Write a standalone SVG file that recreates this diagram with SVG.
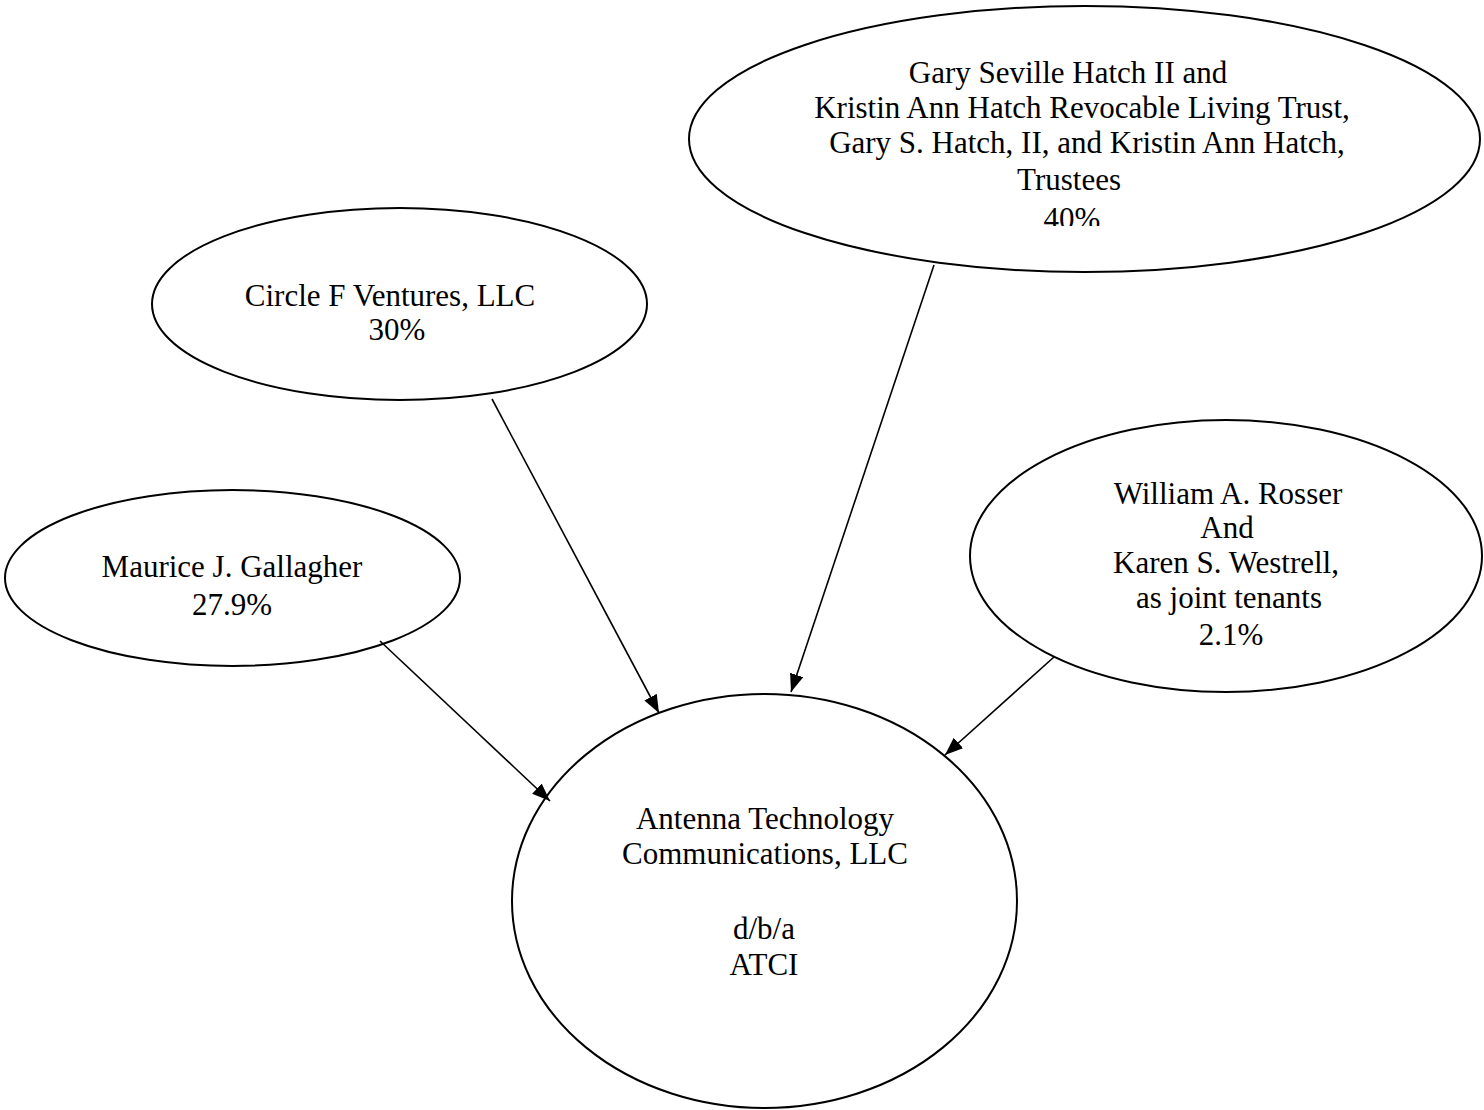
<svg xmlns="http://www.w3.org/2000/svg" width="1484" height="1110" viewBox="0 0 1484 1110">
<style>
.node{fill:#fff;stroke:#000;stroke-width:2}
.t{font-family:"Liberation Serif","Times New Roman",serif;font-size:31px;fill:#000;text-anchor:middle}
.edge{stroke:#000;stroke-width:1.6;fill:none;marker-end:url(#arr)}
</style>
<defs>
<marker id="arr" markerUnits="userSpaceOnUse" markerWidth="20" markerHeight="16" refX="18" refY="7" orient="auto">
<path d="M0,0 L18,7 L0,14 Z" fill="#000"/>
</marker>
<clipPath id="topclip"><rect x="680" y="0" width="804" height="226"/></clipPath>
</defs>
<rect width="1484" height="1110" fill="#fff"/>
<g id="gary">
<ellipse class="node" cx="1084.5" cy="139" rx="395.5" ry="133"/>
<g clip-path="url(#topclip)">
<text class="t" x="1068" y="83">Gary Seville Hatch II and</text>
<text class="t" x="1082" y="118">Kristin Ann Hatch Revocable Living Trust,</text>
<text class="t" x="1087" y="153">Gary S. Hatch, II, and Kristin Ann Hatch,</text>
<text class="t" x="1069" y="190">Trustees</text>
<text class="t" x="1072" y="229">40%</text>
</g>
</g>
<g id="circlef">
<ellipse class="node" cx="399.5" cy="304" rx="247.5" ry="96"/>
<text class="t" x="390" y="306">Circle F Ventures, LLC</text>
<text class="t" x="397" y="340">30%</text>
</g>
<g id="maurice">
<ellipse class="node" cx="232.5" cy="578" rx="227.5" ry="88"/>
<text class="t" x="232" y="577">Maurice J. Gallagher</text>
<text class="t" x="232" y="615">27.9%</text>
</g>
<g id="william">
<ellipse class="node" cx="1226" cy="556" rx="256" ry="136"/>
<text class="t" x="1228" y="504">William A. Rosser</text>
<text class="t" x="1227" y="538">And</text>
<text class="t" x="1226" y="573">Karen S. Westrell,</text>
<text class="t" x="1229" y="608">as joint tenants</text>
<text class="t" x="1231" y="645">2.1%</text>
</g>
<g id="atci">
<ellipse class="node" cx="764.5" cy="901" rx="252.5" ry="207"/>
<text class="t" x="765" y="829">Antenna Technology</text>
<text class="t" x="765" y="864">Communications, LLC</text>
<text class="t" x="764" y="939">d/b/a</text>
<text class="t" x="764" y="975">ATCI</text>
</g>
<g id="connectors">
<line class="edge" x1="380" y1="641" x2="550" y2="801"/>
<line class="edge" x1="492" y1="399" x2="659" y2="713"/>
<line class="edge" x1="934" y1="265" x2="791" y2="692"/>
<line class="edge" x1="1054" y1="657" x2="945" y2="755"/>
</g>
</svg>
